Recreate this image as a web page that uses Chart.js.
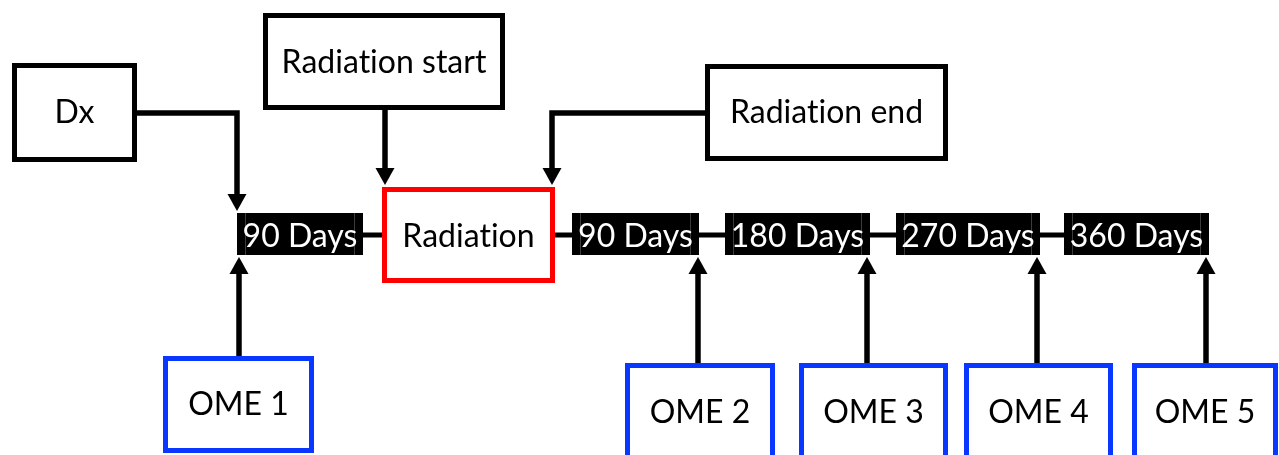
<!DOCTYPE html>
<html>
<head>
<meta charset="utf-8">
<script src="https://cdn.jsdelivr.net/npm/chart.js@4/dist/chart.umd.min.js"></script>
<style>
html,body{margin:0;padding:0;background:#fff;}
canvas{display:block;}
</style>
</head>
<body>
<canvas id="c" width="1279" height="455"></canvas>
<script>
// ---- data (labels of the timeline) ----
const diagnosisLabel = ['Dx'];
const eventLabels = ['Radiation start', 'Radiation end'];
const phaseLabels = ['Radiation'];
const intervalLabels = ['90 Days', '90 Days', '180 Days', '270 Days', '360 Days'];
const assessmentLabels = ['OME 1', 'OME 2', 'OME 3', 'OME 4', 'OME 5'];

// ---- layout (diagram coordinates on hidden linear scales) ----
const layout = {
  dx:        {x0: 14.5, x1: 134.5, y0: 65.5, y1: 159.5, base: 123},
  events: [
    {x0: 265.5, x1: 502.5, y0: 15.5, y1: 107.5, base: 72.5},
    {x0: 707.5, x1: 945.5, y0: 66.5, y1: 158.5, base: 123}
  ],
  phase:     {x0: 384.5, x1: 552.5, y0: 189.5, y1: 280.5, base: 246.5},
  intervals: [[237, 363], [572, 699], [725, 870], [896, 1040], [1064, 1209]],
  intervalY: [213, 255], intervalBase: 246.5,
  timelineY: 235,
  omes: [
    {x0: 165.5, x1: 311.5, y0: 358.5, y1: 450.5, base: 415, ax: 239},
    {x0: 627.5, x1: 772.5, y0: 365.5, y1: 457.5, base: 422.5, ax: 698},
    {x0: 801.5, x1: 945.5, y0: 365.5, y1: 457.5, base: 422.5, ax: 867},
    {x0: 966.5, x1: 1110.5, y0: 365.5, y1: 457.5, base: 422.5, ax: 1037},
    {x0: 1134.5, x1: 1275.5, y0: 365.5, y1: 457.5, base: 422.5, ax: 1206}
  ],
  upTip: 257,
  dxArrow: {y: 113, x: 237, tip: 211},
  startArrow: {x: 385, tip: 185},
  endArrow: {y: 113, x: 552, tip: 185}
};

const FONT = '32px Lato, "Open Sans", sans-serif';
const BLUE = '#0a37ff', RED = '#fe0000', BLACK = '#000';

const diagramPlugin = {
  id: 'diagram',
  afterDraw(chart) {
    const ctx = chart.ctx;
    const X = v => chart.scales.x.getPixelForValue(v);
    const Y = v => chart.scales.y.getPixelForValue(v);
    ctx.save();
    ctx.lineCap = 'butt';
    ctx.lineJoin = 'miter';
    if ('letterSpacing' in ctx) ctx.letterSpacing = '0.01px'; // avoids the "ti" ligature

    function line(pts, w) {
      ctx.beginPath();
      ctx.moveTo(X(pts[0][0]), Y(pts[0][1]));
      for (let i = 1; i < pts.length; i++) ctx.lineTo(X(pts[i][0]), Y(pts[i][1]));
      ctx.lineWidth = w; ctx.strokeStyle = BLACK; ctx.stroke();
    }
    function head(x, tip, dir) { // dir 1 = pointing down, -1 = up
      const h = 17, hw = 9.5;
      ctx.beginPath();
      ctx.moveTo(X(x), Y(tip));
      ctx.lineTo(X(x - hw), Y(tip - dir * h));
      ctx.lineTo(X(x + hw), Y(tip - dir * h));
      ctx.closePath();
      ctx.fillStyle = BLACK; ctx.fill();
    }
    function box(b, color, label, textColor) {
      ctx.fillStyle = '#fff';
      ctx.fillRect(X(b.x0), Y(b.y0), X(b.x1) - X(b.x0), Y(b.y1) - Y(b.y0));
      ctx.lineWidth = 5; ctx.strokeStyle = color;
      ctx.strokeRect(X(b.x0), Y(b.y0), X(b.x1) - X(b.x0), Y(b.y1) - Y(b.y0));
      ctx.fillStyle = textColor || BLACK;
      ctx.font = FONT; ctx.textAlign = 'center'; ctx.textBaseline = 'alphabetic';
      ctx.fillText(label, X((b.x0 + b.x1) / 2), Y(b.base));
    }

    // timeline line
    const iv = layout.intervals;
    line([[iv[0][1], layout.timelineY], [iv[iv.length - 1][0], layout.timelineY]], 5);

    // phase box (red)
    box(layout.phase, RED, phaseLabels[0]);

    // interval boxes (black)
    ctx.font = FONT;
    iv.forEach((r, i) => {
      const [y0, y1] = layout.intervalY;
      ctx.fillStyle = BLACK;
      ctx.fillRect(X(r[0]), Y(y0), X(r[1]) - X(r[0]), Y(y1) - Y(y0));
      ctx.strokeStyle = '#3c3c3c'; ctx.lineWidth = 1;
      ctx.beginPath();
      ctx.moveTo(X(r[0] + 8) + 0.5, Y(y0)); ctx.lineTo(X(r[0] + 8) + 0.5, Y(y1));
      ctx.moveTo(X(r[1] - 8) - 0.5, Y(y0)); ctx.lineTo(X(r[1] - 8) - 0.5, Y(y1));
      ctx.stroke();
      ctx.fillStyle = '#fff';
      ctx.textAlign = 'center'; ctx.textBaseline = 'alphabetic';
      ctx.fillText(intervalLabels[i], X((r[0] + r[1]) / 2), Y(layout.intervalBase));
    });

    // top boxes
    box(layout.dx, BLACK, diagnosisLabel[0]);
    layout.events.forEach((b, i) => box(b, BLACK, eventLabels[i]));

    // down arrows
    const d = layout.dxArrow;
    line([[layout.dx.x1 + 2.5, d.y], [d.x, d.y], [d.x, d.tip - 15]], 5.5);
    head(d.x, d.tip, 1);
    const s = layout.startArrow, e0 = layout.events[0];
    line([[s.x, e0.y1 + 2.5], [s.x, s.tip - 15]], 5.5);
    head(s.x, s.tip, 1);
    const e = layout.endArrow, e1 = layout.events[1];
    line([[e1.x0 - 2.5, e.y], [e.x, e.y], [e.x, e.tip - 15]], 5.5);
    head(e.x, e.tip, 1);

    // OME boxes and up arrows
    layout.omes.forEach((b, i) => {
      box(b, BLUE, assessmentLabels[i]);
      line([[b.ax, b.y0 - 2.5], [b.ax, layout.upTip + 15]], 5.5);
      head(b.ax, layout.upTip, -1);
    });
    ctx.restore();
  }
};

new Chart(document.getElementById('c'), {
  type: 'scatter',
  data: { datasets: [{ data: [], pointRadius: 0 }] },
  options: {
    responsive: false,
    animation: false,
    layout: { padding: 0 },
    plugins: { legend: { display: false }, tooltip: { enabled: false } },
    scales: {
      x: { type: 'linear', min: 0, max: 1279, display: false },
      y: { type: 'linear', min: 0, max: 455, reverse: true, display: false }
    }
  },
  plugins: [diagramPlugin]
});
</script>
</body>
</html>
